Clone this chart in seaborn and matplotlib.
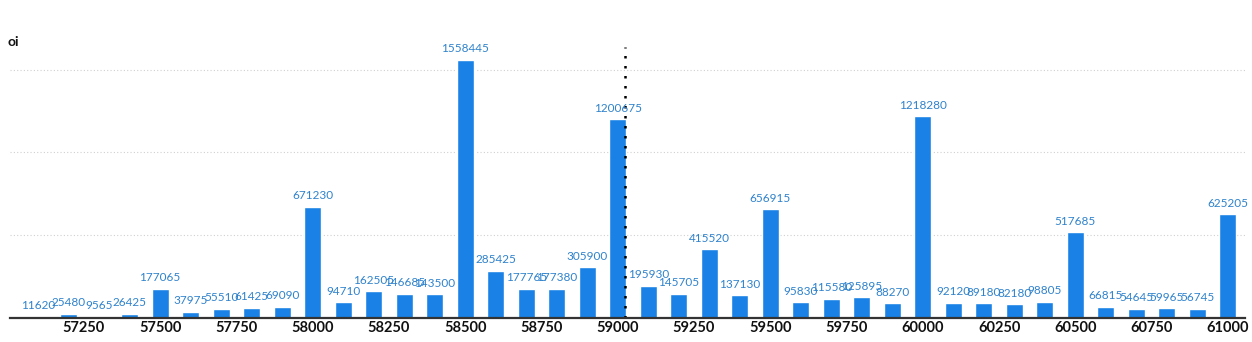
import matplotlib
matplotlib.use("Agg")
import matplotlib.pyplot as plt
import seaborn as sns
import pandas as pd
import numpy as np

strikes = list(range(57100, 61001, 100))
oi = [11620, 25480, 9565, 26425, 177065, 37975, 55510, 61425, 69090, 671230,
      94710, 162505, 146685, 143500, 1558445, 285425, 177765, 177380, 305900, 1200675,
      195930, 145705, 415520, 137130, 656915, 95830, 115580, 125895, 88270, 1218280,
      92120, 89180, 82180, 98805, 517685, 66815, 54645, 59965, 56745, 625205]
xticks = list(range(57250, 61001, 250))
spot = 59025

df = pd.DataFrame({"strike": strikes, "oi": oi})

sns.set_theme(style="white")
plt.rcParams['font.family'] = ['Lato', 'DejaVu Sans']

fig = plt.figure(figsize=(12.52, 3.42), dpi=100)
ax = fig.add_axes([10/1252, 24/342, 1235/1252, (318-47)/342])

sns.barplot(data=df, x="strike", y="oi", native_scale=True, color="#1a82e6",
            width=56, saturation=1, ax=ax)
for p in ax.patches:
    x = p.get_x() + p.get_width()/2
    p.set_x(x - 28)
    p.set_width(56)

for s, v in zip(strikes, oi):
    ax.annotate(str(v), (s, v), xytext=(0, 4), textcoords="offset points",
                ha="center", va="bottom", fontsize=8.5, color="#2f82cc")

ax.set_xlim(57008, 61056)
ax.set_ylim(0, 1637000)
for g in [500000, 1000000, 1500000]:
    ax.axhline(g, color="#d0d0d0", lw=0.8, ls=(0, (1, 2)), zorder=0)
ax.axvline(spot, color="black", lw=1.8, ls=(0, (1, 3)), ymin=0, ymax=1)

ax.set_xticks(xticks)
ax.set_xticklabels([str(t) for t in xticks], fontweight="bold", fontsize=10.5, color="#111111")
ax.set_yticks([])
ax.set_xlabel("")
ax.set_ylabel("")
ax.tick_params(axis="x", length=0, pad=2)
for side in ["top", "right", "left"]:
    ax.spines[side].set_visible(False)
ax.spines["bottom"].set_color("#333333")
ax.spines["bottom"].set_linewidth(1.6)

fig.text(8/1252, 1 - 42/342, "oi", fontsize=10, fontweight="bold", color="#111111",
         ha="left", va="center")

fig.savefig("out.png", dpi=100)
